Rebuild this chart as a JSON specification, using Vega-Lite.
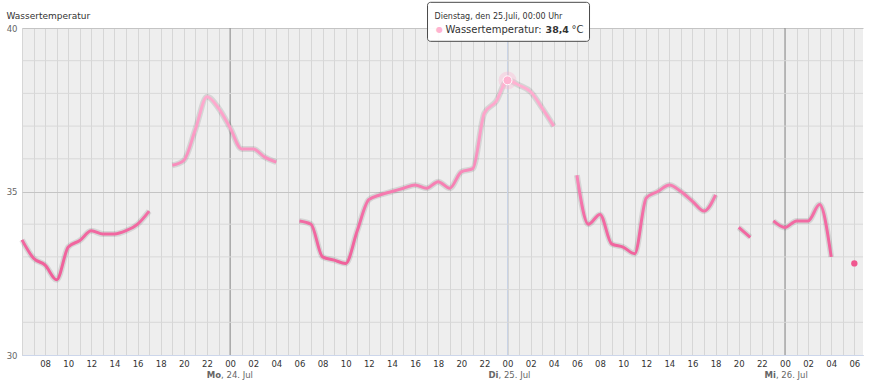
{
  "$schema": "https://vega.github.io/schema/vega-lite/v6.json",
  "width": 841,
  "height": 327,
  "autosize": {"type": "none"},
  "padding": {"left": 22, "top": 28, "right": 10, "bottom": 34},
  "background": "#ffffff",
  "view": {"fill": "#eeeeee", "stroke": null},
  "config": {"font": "DejaVu Sans"},
  "data": {"values": [
      {"t": "2023-07-23T06:00", "v": 33.52},
      {"t": "2023-07-23T07:00", "v": 32.96},
      {"t": "2023-07-23T08:00", "v": 32.75},
      {"t": "2023-07-23T09:00", "v": 32.3},
      {"t": "2023-07-23T10:00", "v": 33.3},
      {"t": "2023-07-23T11:00", "v": 33.5},
      {"t": "2023-07-23T12:00", "v": 33.8},
      {"t": "2023-07-23T13:00", "v": 33.7},
      {"t": "2023-07-23T14:00", "v": 33.7},
      {"t": "2023-07-23T15:00", "v": 33.8},
      {"t": "2023-07-23T16:00", "v": 34.0},
      {"t": "2023-07-23T17:00", "v": 34.4},
      {"t": "2023-07-23T18:00", "v": null},
      {"t": "2023-07-23T19:00", "v": 35.8},
      {"t": "2023-07-23T20:00", "v": 35.95},
      {"t": "2023-07-23T21:00", "v": 36.9},
      {"t": "2023-07-23T22:00", "v": 37.9},
      {"t": "2023-07-23T23:00", "v": 37.55},
      {"t": "2023-07-24T00:00", "v": 36.95},
      {"t": "2023-07-24T01:00", "v": 36.3},
      {"t": "2023-07-24T02:00", "v": 36.3},
      {"t": "2023-07-24T03:00", "v": 36.05},
      {"t": "2023-07-24T04:00", "v": 35.9},
      {"t": "2023-07-24T05:00", "v": null},
      {"t": "2023-07-24T06:00", "v": 34.1},
      {"t": "2023-07-24T07:00", "v": 34.0},
      {"t": "2023-07-24T08:00", "v": 33.0},
      {"t": "2023-07-24T09:00", "v": 32.9},
      {"t": "2023-07-24T10:00", "v": 32.8},
      {"t": "2023-07-24T11:00", "v": 33.8},
      {"t": "2023-07-24T12:00", "v": 34.75},
      {"t": "2023-07-24T13:00", "v": 34.9},
      {"t": "2023-07-24T14:00", "v": 35.0},
      {"t": "2023-07-24T15:00", "v": 35.1},
      {"t": "2023-07-24T16:00", "v": 35.2},
      {"t": "2023-07-24T17:00", "v": 35.1},
      {"t": "2023-07-24T18:00", "v": 35.3},
      {"t": "2023-07-24T19:00", "v": 35.1},
      {"t": "2023-07-24T20:00", "v": 35.6},
      {"t": "2023-07-24T21:00", "v": 35.7},
      {"t": "2023-07-24T22:00", "v": 37.4},
      {"t": "2023-07-24T23:00", "v": 37.75},
      {"t": "2023-07-25T00:00", "v": 38.4},
      {"t": "2023-07-25T01:00", "v": 38.25},
      {"t": "2023-07-25T02:00", "v": 38.05},
      {"t": "2023-07-25T03:00", "v": 37.55},
      {"t": "2023-07-25T04:00", "v": 37.0},
      {"t": "2023-07-25T05:00", "v": null},
      {"t": "2023-07-25T06:00", "v": 35.5},
      {"t": "2023-07-25T07:00", "v": 34.0},
      {"t": "2023-07-25T08:00", "v": 34.3},
      {"t": "2023-07-25T09:00", "v": 33.4},
      {"t": "2023-07-25T10:00", "v": 33.3},
      {"t": "2023-07-25T11:00", "v": 33.1},
      {"t": "2023-07-25T12:00", "v": 34.8},
      {"t": "2023-07-25T13:00", "v": 35.0},
      {"t": "2023-07-25T14:00", "v": 35.2},
      {"t": "2023-07-25T15:00", "v": 35.0},
      {"t": "2023-07-25T16:00", "v": 34.7},
      {"t": "2023-07-25T17:00", "v": 34.4},
      {"t": "2023-07-25T18:00", "v": 34.9},
      {"t": "2023-07-25T19:00", "v": null},
      {"t": "2023-07-25T20:00", "v": 33.9},
      {"t": "2023-07-25T21:00", "v": 33.6},
      {"t": "2023-07-25T22:00", "v": null},
      {"t": "2023-07-25T23:00", "v": 34.1},
      {"t": "2023-07-26T00:00", "v": 33.9},
      {"t": "2023-07-26T01:00", "v": 34.1},
      {"t": "2023-07-26T02:00", "v": 34.1},
      {"t": "2023-07-26T03:00", "v": 34.6},
      {"t": "2023-07-26T04:00", "v": 33.0},
      {"t": "2023-07-26T05:00", "v": null},
      {"t": "2023-07-26T06:00", "v": 32.8}
  ]},
  "layer": [
    {
      "data": {"values": [
        {"t": "2023-07-24T00:00", "wd": "Mo", "rest": ", 24. Jul"},
        {"t": "2023-07-25T00:00", "wd": "Di", "rest": ", 25. Jul"},
        {"t": "2023-07-26T00:00", "wd": "Mi", "rest": ", 26. Jul"}
      ]},
      "mark": {"type": "rule", "strokeWidth": 1},
      "encoding": {
        "x": {
          "field": "t", "type": "temporal",
          "scale": {"domain": [{"year": 2023, "month": 7, "date": 23, "hours": 6}, {"year": 2023, "month": 7, "date": 26, "hours": 6, "minutes": 45}]},
          "axis": {
            "title": null,
            "tickCount": 73,
            "labelExpr": "(hours(datum.value) % 2 == 0 && !(date(datum.value) == 23 && hours(datum.value) == 6)) ? timeFormat(datum.value, '%H') : ''",
            "labelFontSize": 8.5,
            "labelColor": "#333333",
            "labelPadding": 4,
            "labelOverlap": false,
            "labelFlush": false,
            "ticks": false,
            "domainColor": "#ccd6eb",
            "grid": true,
            "gridColor": "#d6d6d6"
          }
        },
        "color": {"condition": {"test": "date(datum.t) == 25", "value": "#c9d3e6"}, "value": "#8c8c8c"}
      }
    },
    {
      "data": {"values": [{"g": 31}, {"g": 32}, {"g": 33}, {"g": 34}, {"g": 36}, {"g": 37}, {"g": 38}, {"g": 39}]},
      "mark": {"type": "rule", "strokeWidth": 1, "color": "#d8d8d8"},
      "encoding": {
        "y": {
          "field": "g", "type": "quantitative",
          "scale": {"domain": [30, 40], "nice": false, "zero": false},
          "axis": {
            "values": [30, 35, 40],
            "labelFontSize": 8.5,
            "labelColor": "#666666",
            "labelPadding": 5,
            "ticks": false,
            "domain": false,
            "grid": true,
            "gridColor": "#c4c4c4",
            "title": "Wassertemperatur",
            "titleAngle": 0,
            "titleAlign": "left",
            "titleBaseline": "middle",
            "titleX": -16,
            "titleY": -13,
            "titleFontSize": 9,
            "titleFontWeight": "normal",
            "titleColor": "#333333"
          }
        }
      }
    },
    {
      "mark": {"type": "line", "interpolate": "monotone", "strokeWidth": 6, "color": "#000000", "opacity": 0.1},
      "encoding": {
        "x": {"field": "t", "type": "temporal"},
        "y": {"field": "v", "type": "quantitative"}
      }
    },
    {
      "mark": {
        "type": "line", "interpolate": "monotone", "strokeWidth": 3,
        "color": {"gradient": "linear", "x1": 0, "y1": 0, "x2": 0, "y2": 1, "stops": [
          {"offset": 0, "color": "#ffb3d3"},
          {"offset": 0.4, "color": "#f98fbe"},
          {"offset": 0.7, "color": "#f26aa3"},
          {"offset": 1, "color": "#ef5f99"}
        ]}
      },
      "encoding": {
        "x": {"field": "t", "type": "temporal"},
        "y": {"field": "v", "type": "quantitative"}
      }
    },
    {
      "transform": [{"filter": "date(datum.t) == 26 && hours(datum.t) == 6"}],
      "mark": {"type": "point", "filled": true, "size": 40, "color": "#f0568f", "opacity": 1},
      "encoding": {
        "x": {"field": "t", "type": "temporal"},
        "y": {"field": "v", "type": "quantitative"}
      }
    },
    {
      "data": {"values": [{"t": "2023-07-25T00:00", "v": 38.4, "head": "Dienstag, den 25.Juli, 00:00 Uhr", "name": "Wassertemperatur:", "val": "38,4", "unit": "°C", "dot": "●"}]},
      "layer": [
        {
          "mark": {"type": "point", "filled": true, "size": 320, "color": "#ffb3d1", "opacity": 0.35},
          "encoding": {"x": {"field": "t", "type": "temporal"}, "y": {"field": "v", "type": "quantitative"}}
        },
        {
          "mark": {"type": "point", "filled": true, "size": 80, "fill": "#ffb3d1", "stroke": "#ffffff", "strokeWidth": 1, "opacity": 1},
          "encoding": {"x": {"field": "t", "type": "temporal"}, "y": {"field": "v", "type": "quantitative"}}
        },
        {
          "mark": {"type": "rect", "fill": "#ffffff", "fillOpacity": 0.95, "stroke": "#4a4a4a", "strokeWidth": 1, "cornerRadius": 3, "xOffset": -80, "x2Offset": 82, "yOffset": -78, "y2Offset": -39},
          "encoding": {
            "x": {"field": "t", "type": "temporal"},
            "x2": {"field": "t"},
            "y": {"field": "v", "type": "quantitative"},
            "y2": {"field": "v"}
          }
        },
        {
          "mark": {"type": "text", "align": "left", "baseline": "middle", "dx": -73, "dy": -63, "fontSize": 8, "color": "#333333"},
          "encoding": {"x": {"field": "t", "type": "temporal"}, "y": {"field": "v", "type": "quantitative"}, "text": {"field": "head"}}
        },
        {
          "mark": {"type": "text", "align": "center", "baseline": "middle", "dx": -68, "dy": -50, "fontSize": 8, "color": "#ffb3d1"},
          "encoding": {"x": {"field": "t", "type": "temporal"}, "y": {"field": "v", "type": "quantitative"}, "text": {"field": "dot"}}
        },
        {
          "mark": {"type": "text", "align": "left", "baseline": "middle", "dx": -62, "dy": -50, "fontSize": 10, "color": "#333333"},
          "encoding": {"x": {"field": "t", "type": "temporal"}, "y": {"field": "v", "type": "quantitative"}, "text": {"field": "name"}}
        },
        {
          "mark": {"type": "text", "align": "left", "baseline": "middle", "dx": 38, "dy": -50, "fontSize": 9.5, "fontWeight": "bold", "color": "#333333"},
          "encoding": {"x": {"field": "t", "type": "temporal"}, "y": {"field": "v", "type": "quantitative"}, "text": {"field": "val"}}
        },
        {
          "mark": {"type": "text", "align": "left", "baseline": "middle", "dx": 64, "dy": -50, "fontSize": 10, "color": "#333333"},
          "encoding": {"x": {"field": "t", "type": "temporal"}, "y": {"field": "v", "type": "quantitative"}, "text": {"field": "unit"}}
        }
      ]
    },
    {
      "data": {"values": [
        {"t": "2023-07-24T00:00", "wd": "Mo", "rest": ", 24. Jul"},
        {"t": "2023-07-25T00:00", "wd": "Di", "rest": ", 25. Jul"},
        {"t": "2023-07-26T00:00", "wd": "Mi", "rest": ", 26. Jul"}
      ]},
      "layer": [
        {
          "mark": {"type": "text", "align": "right", "baseline": "middle", "dx": -9, "dy": 20, "fontSize": 8.5, "fontWeight": "bold", "color": "#666666"},
          "encoding": {"x": {"field": "t", "type": "temporal"}, "y": {"datum": 30, "type": "quantitative"}, "text": {"field": "wd"}}
        },
        {
          "mark": {"type": "text", "align": "left", "baseline": "middle", "dx": -9, "dy": 20, "fontSize": 8.5, "color": "#666666"},
          "encoding": {"x": {"field": "t", "type": "temporal"}, "y": {"datum": 30, "type": "quantitative"}, "text": {"field": "rest"}}
        }
      ]
    }
  ]
}
